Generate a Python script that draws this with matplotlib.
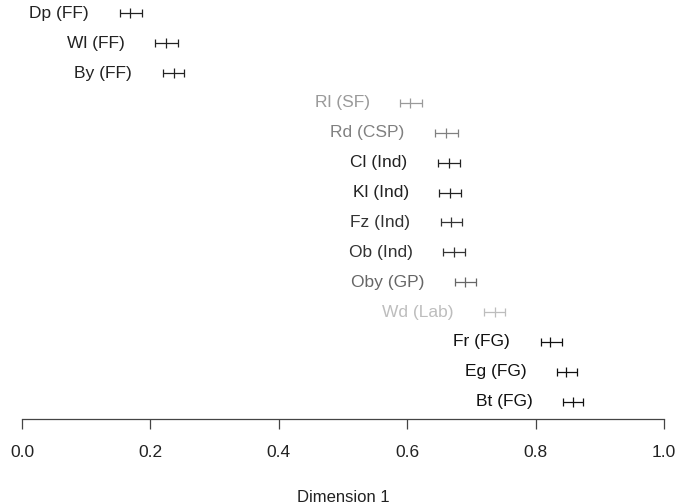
import matplotlib
matplotlib.use("Agg")
import matplotlib.pyplot as plt
import numpy as np

plt.rcParams['font.family'] = ['Liberation Sans', 'DejaVu Sans']

# estimates on dimension 1 (mean and interval), top row first
labels = ['Dp (FF)', 'Wl (FF)', 'By (FF)', 'Rl (SF)', 'Rd (CSP)', 'Cl (Ind)', 'Kl (Ind)',
          'Fz (Ind)', 'Ob (Ind)', 'Oby (GP)', 'Wd (Lab)', 'Fr (FG)', 'Eg (FG)', 'Bt (FG)']
mean = [0.169, 0.225, 0.236, 0.605, 0.661, 0.665, 0.667,
        0.668, 0.673, 0.690, 0.736, 0.823, 0.848, 0.859]
lower = [0.152, 0.207, 0.219, 0.589, 0.643, 0.648, 0.650,
         0.652, 0.656, 0.675, 0.720, 0.808, 0.833, 0.843]
upper = [0.187, 0.243, 0.253, 0.623, 0.679, 0.682, 0.684,
         0.685, 0.690, 0.707, 0.752, 0.841, 0.865, 0.874]
xticks = [0.0, 0.2, 0.4, 0.6, 0.8, 1.0]

# row shading (lighter = less certain)
colors = ['#222222', '#222222', '#222222', '#9a9a9a', '#808080', '#222222', '#222222',
          '#333333', '#333333', '#666666', '#bdbdbd', '#111111', '#111111', '#111111']

n = len(labels)
ypos = np.arange(n)[::-1]

fig = plt.figure(figsize=(6.91, 5.04), dpi=100)
ax = fig.add_axes([22 / 691, 85 / 504, 642 / 691, 419 / 504])

for i in range(n):
    m, lo, hi, c = mean[i], lower[i], upper[i], colors[i]
    ax.errorbar(m, ypos[i], xerr=[[m - lo], [hi - lo - (m - lo)]], fmt='none',
                ecolor=c, elinewidth=0.9, capsize=2.6, capthick=0.9, clip_on=False)
    ax.plot(m, ypos[i], marker='|', color=c, markersize=6.5, mew=0.9, clip_on=False)
    ax.annotate(labels[i], xy=(lo, ypos[i]), xytext=(-22, 0), textcoords='offset points',
                ha='right', va='center', fontsize=12.5, color=c, annotation_clip=False)

ax.set_xlim(0, 1)
ax.set_ylim(-0.58, 13.445)
ax.set_yticks([])
for s in ['top', 'right', 'left']:
    ax.spines[s].set_visible(False)
ax.spines['bottom'].set_bounds(0, 1)
ax.spines['bottom'].set_color('#444444')
ax.spines['bottom'].set_linewidth(0.9)
ax.set_xticks(xticks)
ax.set_xticklabels(['%.1f' % t for t in xticks])
ax.tick_params(axis='x', direction='out', length=7.5, width=0.9, color='#444444',
               pad=11, labelsize=12.5, labelcolor='#222222')
ax.set_xlabel('Dimension 1', fontsize=12, color='#222222', labelpad=22)

fig.savefig('out.png', dpi=100)
